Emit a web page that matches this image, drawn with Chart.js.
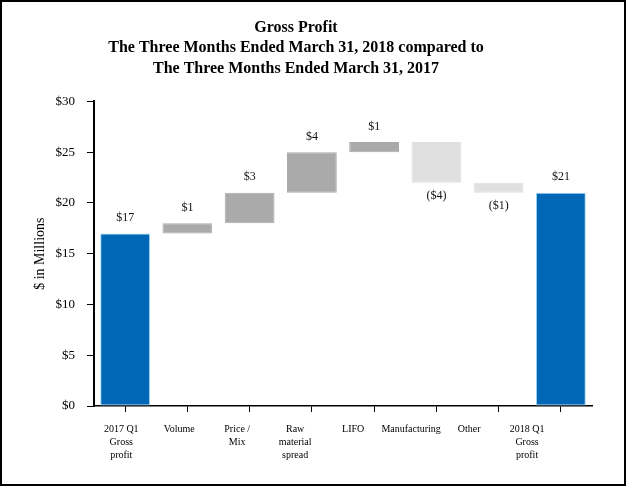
<!DOCTYPE html>
<html>
<head>
<meta charset="utf-8">
<script src="https://cdn.jsdelivr.net/npm/chart.js@4/dist/chart.umd.min.js"></script>
<style>
  html, body { margin: 0; padding: 0; background: #fff; }
  #wrap { position: relative; width: 626px; height: 486px; }
  #frame { position: absolute; left: 0; top: 0; width: 626px; height: 486px; box-sizing: border-box; border: 2px solid #000; pointer-events: none; }
  canvas { position: absolute; left: 0; top: 0; }
</style>
</head>
<body>
<div id="wrap">
  <canvas id="c" width="626" height="486"></canvas>
  <div id="frame"></div>
</div>
<script>
// ---- data ----
const categories = ['2017 Q1 Gross profit', 'Volume', 'Price / Mix', 'Raw material spread', 'LIFO', 'Manufacturing', 'Other', '2018 Q1 Gross profit'];
const categoryLines = [['2017 Q1', 'Gross', 'profit'], ['Volume'], ['Price /', 'Mix'], ['Raw', 'material', 'spread'], ['LIFO'], ['Manufacturing'], ['Other'], ['2018 Q1', 'Gross', 'profit']];
const barStarts = [0, 17, 18, 21, 25, 26, 22, 0];
const barEnds   = [17, 18, 21, 25, 26, 22, 21, 21];
const isTotal   = [true, false, false, false, false, false, false, true];
const yTicks = [0, 5, 10, 15, 20, 25, 30];
const titleLines = ['Gross Profit', 'The Three Months Ended March 31, 2018 compared to', 'The Three Months Ended March 31, 2017'];
const yTitle = '$ in Millions';

// ---- styling ----
const BLUE = '#0067B6', BLUE_EDGE = '#9DD3F3', DARK = '#AAAAAA', LIGHT = '#E0E0E0';
const SERIF = "'Liberation Serif', 'Times New Roman', serif";

const floating = barStarts.map((s, i) => [s, barEnds[i]]);
const deltas = barStarts.map((s, i) => barEnds[i] - s);
const fills = deltas.map((d, i) => isTotal[i] ? BLUE : (d >= 0 ? DARK : LIGHT));
const edges = deltas.map((d, i) => isTotal[i] ? BLUE_EDGE : fills[i]);
const fmt = d => d < 0 ? '($' + Math.abs(d) + ')' : '$' + d;

const valueLabels = {
  id: 'valueLabels',
  afterDatasetsDraw(chart) {
    const ctx = chart.ctx;
    const meta = chart.getDatasetMeta(0);
    ctx.save();
    ctx.font = '12px ' + SERIF;
    ctx.fillStyle = '#111';
    ctx.textAlign = 'center';
    ctx.textBaseline = 'middle';
    meta.data.forEach((bar, i) => {
      const p = bar.getProps(['x', 'y', 'base'], true);
      const d = deltas[i];
      if (d >= 0) {
        ctx.fillText(fmt(d), p.x, Math.min(p.y, p.base) - 15.5);
      } else {
        ctx.fillText(fmt(d), p.x, Math.max(p.y, p.base) + 13.5);
      }
    });
    ctx.restore();
  }
};

new Chart(document.getElementById('c'), {
  type: 'bar',
  data: {
    labels: categories,
    datasets: [{
      data: floating,
      backgroundColor: fills,
      borderColor: edges,
      borderWidth: 1,
      borderSkipped: false,
      categoryPercentage: 1,
      barPercentage: 0.8
    }]
  },
  options: {
    responsive: false,
    animation: false,
    devicePixelRatio: 1,
    layout: { padding: { left: 0, right: 34, top: 0, bottom: 13 } },
    plugins: {
      legend: { display: false },
      tooltip: { enabled: false },
      title: {
        display: true,
        text: titleLines,
        color: '#000',
        font: { family: SERIF, size: 16, weight: 'bold', lineHeight: 1.3 },
        padding: { top: 17, bottom: 22 }
      }
    },
    scales: {
      x: {
        type: 'category',
        position: 'bottom',
        offset: true,
        grid: { display: true, drawOnChartArea: false, drawTicks: true, tickLength: 6, tickColor: '#000', tickWidth: 1, offset: false },
        border: { display: true, color: '#000', width: 1.5 },
        ticks: { display: false, padding: 0 }
      },
      x2: {
        type: 'linear',
        position: 'bottom',
        bounds: 'data',
        offset: false,
        min: -0.47,
        max: 8.12,
        grid: { display: false, drawTicks: false, offset: false },
        border: { display: false },
        afterBuildTicks(scale) { scale.ticks = categoryLines.map((_, i) => ({ value: i })); },
        ticks: {
          autoSkip: false,
          maxRotation: 0,
          padding: 11,
          color: '#000',
          font: { family: SERIF, size: 10, lineHeight: 1.3 },
          callback: (v) => categoryLines[v]
        }
      },
      y: {
        min: 0,
        max: 30,
        afterBuildTicks(scale) { scale.ticks = yTicks.map(v => ({ value: v })); },
        afterFit(scale) { scale.width = 94; },
        grid: { display: true, drawOnChartArea: false, drawTicks: true, tickLength: 7, tickColor: '#000', tickWidth: 1 },
        border: { display: true, color: '#000', width: 2 },
        ticks: {
          padding: 12,
          color: '#000',
          font: { family: SERIF, size: 13 },
          callback: v => '$' + v
        },
        title: {
          display: true,
          text: yTitle,
          color: '#000',
          font: { family: SERIF, size: 14 },
          padding: { top: 32, bottom: 0 }
        }
      }
    }
  },
  plugins: [valueLabels]
});
</script>
</body>
</html>
